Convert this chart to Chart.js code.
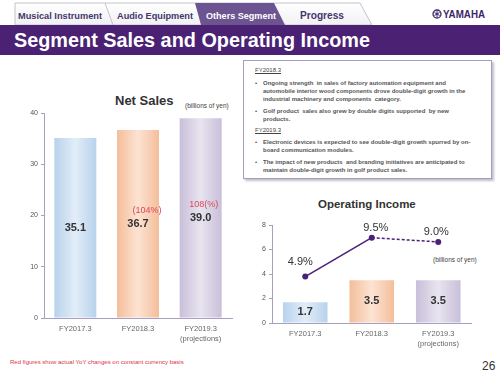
<!DOCTYPE html>
<html>
<head>
    <title>Segment Sales and Operating Income</title>
    <script src="https://cdn.jsdelivr.net/npm/chart.js"></script>
    <style>
        body {
            margin: 0;
            padding: 0;
            width: 500px;
            height: 375px;
            background: #fff;
            font-family: "Liberation Sans", Arial, sans-serif;
            position: relative;
            overflow: hidden;
        }
        #header { position: absolute; left: 0; top: 0; }
        .abs { position: absolute; white-space: nowrap; }
        .ctitle { font-weight: bold; color: #333; }
        .unit { font-size: 6.5px; color: #444; }
        #notes {
            position: absolute;
            left: 243px;
            top: 60px;
            width: 247px;
            height: 117px;
            border: 1px solid #a69cbf;
            box-shadow: 2px 2px 2px rgba(80, 70, 110, 0.35);
            background: #fff;
        }
        #notes .ln {
            position: absolute;
            white-space: nowrap;
            font-size: 6px;
            font-weight: bold;
            color: #555;
            line-height: 8px;
        }
        #notes .hd { font-weight: normal; text-decoration: underline; color: #444; }
        #notes .bl { left: 11px; }
        #notes .tx { left: 19px; }
        #salesBox { position: absolute; left: 10px; top: 100px; width: 230px; height: 250px; }
        #incomeBox { position: absolute; left: 245px; top: 212px; width: 250px; height: 145px; }
    </style>
</head>
<body>
    <svg id="header" width="500" height="56">
        <defs>
            <linearGradient id="tabBg" x1="0" y1="0" x2="0" y2="1">
                <stop offset="0" stop-color="#ffffff"/>
                <stop offset="1" stop-color="#f1f0f4"/>
            </linearGradient>
        </defs>
        <path d="M15,25 L15,3 L360,3 L372,25 Z" fill="url(#tabBg)" stroke="#c4c2cc" stroke-width="1"/>
        <line x1="105" y1="3" x2="113" y2="25" stroke="#c4c2cc" stroke-width="1"/>
        <path d="M195,3 L274,3 L285,25 L201,25 Z" fill="#6c5490"/>
        <text x="18" y="19" font-family="Liberation Sans" font-weight="bold" font-size="9.5" fill="#45366a" textLength="84" lengthAdjust="spacingAndGlyphs">Musical Instrument</text>
        <text x="117" y="19" font-family="Liberation Sans" font-weight="bold" font-size="9.5" fill="#45366a" textLength="76" lengthAdjust="spacingAndGlyphs">Audio Equipment</text>
        <text x="206" y="19" font-family="Liberation Sans" font-weight="bold" font-size="9.5" fill="#ffffff" textLength="70" lengthAdjust="spacingAndGlyphs">Others Segment</text>
        <text x="300" y="19" font-family="Liberation Sans" font-weight="bold" font-size="10" fill="#45366a" textLength="44" lengthAdjust="spacingAndGlyphs">Progress</text>
        <circle cx="437" cy="14" r="4" fill="none" stroke="#3b2768" stroke-width="1.3"/>
        <path d="M437,11 L437,17 M434.4,12.5 L439.6,15.5 M434.4,15.5 L439.6,12.5" stroke="#3b2768" stroke-width="1"/>
        <text x="443" y="18" font-family="Liberation Sans" font-weight="bold" font-size="11" fill="#3b2768" textLength="42" lengthAdjust="spacingAndGlyphs">YAMAHA</text>
        <rect x="0" y="25" width="500" height="30" fill="#4a2173"/>
        <text x="14" y="47" font-family="Liberation Sans" font-weight="bold" font-size="21" fill="#ffffff" textLength="356" lengthAdjust="spacingAndGlyphs">Segment Sales and Operating Income</text>
    </svg>

    <div class="abs ctitle" style="left:115px; top:93px; font-size:13px;">Net Sales</div>
    <div class="abs unit" style="left:185px; top:102px;">(billions of yen)</div>

    <div id="notes">
        <div class="ln hd" style="left:11px; top:5px;">FY2018.3</div>
        <div class="ln bl" style="top:18px;">•</div>
        <div class="ln tx" style="top:18px;">Ongoing strength &nbsp;in sales of factory automation equipment and</div>
        <div class="ln tx" style="top:26px;">automobile interior wood components drove double-digit growth in the</div>
        <div class="ln tx" style="top:34px;">industrial machinery and components &nbsp;category.</div>
        <div class="ln bl" style="top:46px;">•</div>
        <div class="ln tx" style="top:46px;">Golf product &nbsp;sales also grew by double digits supported &nbsp;by new</div>
        <div class="ln tx" style="top:54px;">products.</div>
        <div class="ln hd" style="left:11px; top:65px;">FY2019.3</div>
        <div class="ln bl" style="top:77px;">•</div>
        <div class="ln tx" style="top:77px;">Electronic devices is expected to see double-digit growth spurred by on-</div>
        <div class="ln tx" style="top:85px;">board communication modules.</div>
        <div class="ln bl" style="top:97px;">•</div>
        <div class="ln tx" style="top:97px;">The impact of new products &nbsp;and branding initiatives are anticipated to</div>
        <div class="ln tx" style="top:105px;">maintain double-digit growth in golf product sales.</div>
    </div>

    <div class="abs ctitle" style="left:318px; top:198px; font-size:11.5px;">Operating Income</div>
    <div class="abs unit" style="left:433px; top:256px;">(billions of yen)</div>

    <div id="salesBox"><canvas id="salesChart"></canvas></div>
    <div id="incomeBox"><canvas id="incomeChart"></canvas></div>

    <div class="abs" style="left:10px; top:359px; font-size:6px; color:#e0344a;">Red figures show actual YoY changes on constant currency basis</div>
    <div class="abs" style="left:482px; top:359px; font-size:12px; color:#333;">26</div>

    <script>
        // data
        const categories = [['FY2017.3'], ['FY2018.3'], ['FY2019.3', '(projections)']];
        const netSales = [35.1, 36.7, 39.0];
        const netSalesYoY = ['', '(104%)', '108(%)'];
        const salesTicks = [0, 10, 20, 30, 40];
        const operatingIncome = [1.7, 3.5, 3.5];
        const incomeTicks = [0, 2, 4, 6, 8];
        const marginValues = [4.9, 9.5, 9.0];
        const marginLabels = ['4.9%', '9.5%', '9.0%'];

        // styles
        const axisColor = '#a79fc2';
        const tickColor = '#555';
        const lineColor = '#4b1f78';
        const barEdges = ['#b8d2ec', '#f4be9a', '#c8bfda'];
        const barMids = ['#e2edf8', '#fce3d3', '#e8e4ef'];
        const BAR_PCT = 0.67;

        function barFill(c) {
            const chart = c.chart;
            const xs = chart.scales.x;
            const i = c.dataIndex;
            if (!chart.chartArea || !xs || i === undefined) return barEdges[0];
            const cx = xs.getPixelForValue(i);
            const half = (xs.width / categories.length) * BAR_PCT / 2;
            const g = chart.ctx.createLinearGradient(cx - half, 0, cx + half, 0);
            g.addColorStop(0, barEdges[i]);
            g.addColorStop(0.5, barMids[i]);
            g.addColorStop(1, barEdges[i]);
            return g;
        }

        function yAxis(ticks, width) {
            return {
                min: ticks[0],
                max: ticks[ticks.length - 1],
                afterBuildTicks: s => { s.ticks = ticks.map(v => ({ value: v })); },
                afterFit: s => { s.width = width; },
                grid: { drawOnChartArea: false, drawTicks: true, tickLength: 3, color: axisColor },
                border: { color: axisColor, width: 1 },
                ticks: { color: tickColor, font: { size: 7, family: 'Liberation Sans' }, padding: 3 }
            };
        }

        function xAxis() {
            return {
                afterFit: s => { s.height = 30; },
                grid: { display: false, drawTicks: false },
                border: { color: axisColor, width: 1 },
                ticks: { color: '#666', font: { size: 7.5, family: 'Liberation Sans', lineHeight: 1.35 }, padding: 6 }
            };
        }

        const barValueLabels = {
            id: 'barValueLabels',
            afterDatasetsDraw(chart) {
                const ctx = chart.ctx;
                chart.data.datasets.forEach((ds, di) => {
                    if (ds.type === 'line') return;
                    const meta = chart.getDatasetMeta(di);
                    meta.data.forEach((el, i) => {
                        const y = (el.y + el.base) / 2;
                        ctx.save();
                        ctx.textAlign = 'center';
                        ctx.textBaseline = 'middle';
                        ctx.fillStyle = '#333';
                        ctx.font = 'bold 11px "Liberation Sans"';
                        ctx.fillText(ds.data[i].toFixed(1), el.x, y);
                        if (ds.yoy && ds.yoy[i]) {
                            ctx.font = '9px "Liberation Sans"';
                            ctx.fillStyle = '#d9475a';
                            ctx.fillText(ds.yoy[i], el.x + (i === 1 ? 9 : 3), y - 13.5);
                        }
                        ctx.restore();
                    });
                });
            }
        };

        const marginText = {
            id: 'marginText',
            afterDatasetsDraw(chart) {
                const meta = chart.getDatasetMeta(0);
                const ctx = chart.ctx;
                const offs = [[-5, -15], [4, -10], [-2, -10]];
                ctx.save();
                ctx.font = '11px "Liberation Sans"';
                ctx.fillStyle = '#333';
                ctx.textAlign = 'center';
                ctx.textBaseline = 'middle';
                meta.data.forEach((pt, i) => {
                    ctx.fillText(marginLabels[i], pt.x + offs[i][0], pt.y + offs[i][1]);
                });
                ctx.restore();
            }
        };

        new Chart(document.getElementById('salesChart'), {
            type: 'bar',
            data: {
                labels: categories,
                datasets: [{
                    label: 'Net Sales',
                    data: netSales,
                    yoy: netSalesYoY,
                    backgroundColor: barFill,
                    barPercentage: BAR_PCT,
                    categoryPercentage: 1
                }]
            },
            options: {
                responsive: true,
                maintainAspectRatio: false,
                animation: false,
                layout: { padding: { top: 13, right: 8, bottom: 2, left: 0 } },
                plugins: { legend: { display: false }, tooltip: { enabled: false } },
                scales: { x: xAxis(), y: yAxis(salesTicks, 34) }
            },
            plugins: [barValueLabels]
        });

        new Chart(document.getElementById('incomeChart'), {
            type: 'bar',
            data: {
                labels: categories,
                datasets: [{
                    type: 'line',
                    label: 'Operating margin',
                    data: marginValues,
                    yAxisID: 'y2',
                    borderColor: lineColor,
                    backgroundColor: lineColor,
                    borderWidth: 1.5,
                    pointRadius: 3,
                    pointBackgroundColor: lineColor,
                    pointBorderWidth: 0,
                    segment: {
                        borderDash: c => c.p0DataIndex === 1 ? [3, 2] : undefined
                    }
                }, {
                    label: 'Operating Income',
                    data: operatingIncome,
                    backgroundColor: barFill,
                    barPercentage: BAR_PCT,
                    categoryPercentage: 1
                }]
            },
            options: {
                responsive: true,
                maintainAspectRatio: false,
                animation: false,
                layout: { padding: { top: 13, right: 23.5, bottom: 4, left: 0 } },
                plugins: { legend: { display: false }, tooltip: { enabled: false } },
                scales: {
                    x: xAxis(),
                    y: yAxis(incomeTicks, 27),
                    y2: { display: false, min: -0.6, max: 11 }
                }
            },
            plugins: [barValueLabels, marginText]
        });
    </script>
</body>
</html>
